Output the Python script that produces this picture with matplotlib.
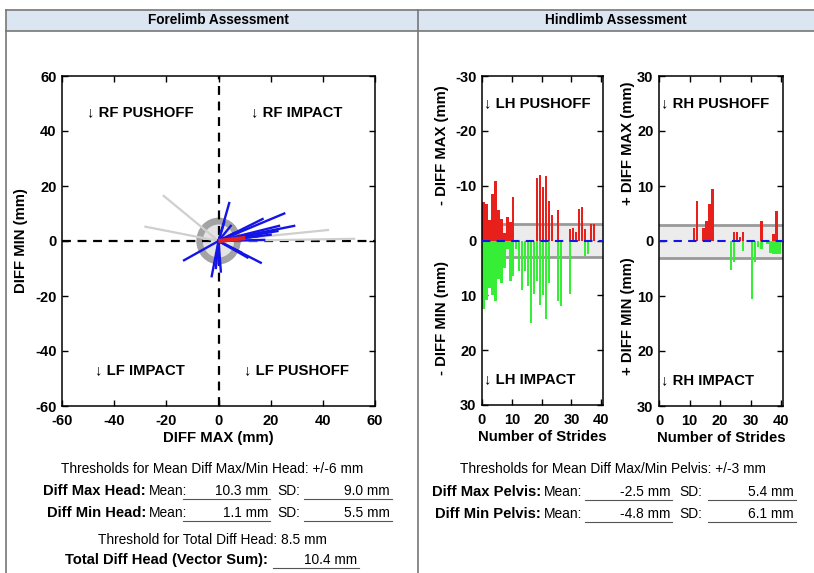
import numpy as np
import matplotlib
matplotlib.use("Agg")
import matplotlib.pyplot as plt
from matplotlib.patches import Circle, Rectangle
from matplotlib.lines import Line2D
from matplotlib.ticker import FuncFormatter

plt.rcParams["font.family"] = ["Liberation Sans", "DejaVu Sans"]
plt.rcParams["axes.unicode_minus"] = False

W, H = 814, 573

# --- Forelimb: per-stride (diff max, diff min) head vectors in mm ---
head_max = [4.1, 25.2, 29.0, 16.9, 23.2, 16.2, -13.2, -2.6, 0.9, 4.7,
            20.0, 17.5, 8.6, 11.1, 2.2, 22.6, 15.0, 6.0, 0.3, -1.0]
head_min = [13.8, 10.0, 5.5, 8.0, 5.5, -7.9, -7.0, -12.8, -11.1, 5.5,
            2.3, 0.4, -4.1, -6.0, 6.8, 3.6, 1.7, 2.9, -8.6, -9.8]
# excluded strides (drawn light gray)
excl_max = [-21.0, -28.0, 42.0, 52.0]
excl_min = [16.4, 5.2, 4.0, 0.8]

head_mean = [10.3, 1.1]
head_sd = [9.0, 5.5]
head_thresh = 6
total_thresh = 8.5
total_head = 10.4

# --- Hindlimb: per-stride pelvis diff max / diff min magnitudes (mm) ---
strides = np.arange(1, 41)
lh_max = [7.0, 6.7, 3.7, 8.4, 10.8, 5.5, 3.9, 1.4, 4.2, 3.3,
          7.9, 0, 0, 0, 0, 0, 0, 0, 11.4, 12.0,
          9.8, 11.7, 7.2, 4.7, 0, 5.6, 0, 0, 0, 2.1,
          2.3, 1.6, 5.8, 6.2, 2.1, 0, 3.0, 3.0, 0, 0]
lh_min = [12.5, 10.8, 8.6, 10.0, 11.0, 7.0, 7.8, 5.0, 1.5, 7.4,
          6.4, 1.5, 5.5, 9.0, 5.5, 8.3, 15.0, 9.8, 7.3, 11.7,
          10.0, 14.4, 7.7, 0, 0, 11.0, 12.0, 0, 0, 9.8,
          0, 0, 0, 0, 2.8, 2.5, 0, 0, 0, 0]
rh_max = [0, 0, 0, 0, 0, 0, 0, 0, 0, 0,
          0, 2.3, 7.2, 0, 2.3, 3.7, 6.8, 9.4, 0, 0,
          0, 0, 0, 0, 1.6, 1.6, 0.8, 1.6, 0, 0,
          0, 0, 0, 3.6, 0, 0, 0, 1.3, 5.5, 0]
rh_min = [0, 0, 0, 0, 0, 0, 0, 0, 0, 0,
          0, 0, 0, 0, 0, 0, 0, 0, 0, 0,
          0, 0, 0, 5.3, 3.9, 0, 0, 1.8, 0, 0,
          10.6, 3.8, 1.0, 1.5, 0, 0.5, 2.1, 2.4, 2.4, 2.4]

pelvis_mean = [-2.5, -4.8]
pelvis_sd = [5.4, 6.1]
pelvis_thresh = 3

RED = "#e8201c"
GREEN = "#36ee36"
BLUE = "#1414e6"
LF = 10.7   # label font size in the plots


def box(l, t, r, b):
    return [l / W, 1 - b / H, (r - l) / W, (b - t) / H]


def fx(px):
    return px / W


def fy(py):
    return 1 - py / H


fig = plt.figure(figsize=(W / 100, H / 100), dpi=100)
fig.patch.set_facecolor("white")

# header band and frame
fig.add_artist(Rectangle((fx(6), fy(31)), fx(814) - fx(6), fy(10) - fy(31),
                         transform=fig.transFigure, facecolor="#dce6f2",
                         edgecolor="none"))
for y in (9.5, 31):
    fig.add_artist(Line2D([fx(6), fx(814)], [fy(y), fy(y)], color="#777777", lw=1.2))
for x in (6, 418):
    fig.add_artist(Line2D([fx(x), fx(x)], [fy(9.5), fy(573)], color="#777777", lw=1.2))
fig.text(fx(218), fy(20.5), "Forelimb Assessment", ha="center", va="center",
         fontsize=9.8, fontweight="bold")
fig.text(fx(616), fy(20.5), "Hindlimb Assessment", ha="center", va="center",
         fontsize=9.8, fontweight="bold")


def style(ax):
    ax.tick_params(direction="in", top=True, right=True, length=4, width=1,
                   labelsize=10.5)
    ax.tick_params(axis="x", pad=6)
    ax.tick_params(axis="y", pad=4)
    for lab in ax.get_xticklabels() + ax.get_yticklabels():
        lab.set_fontweight("bold")
    for s in ax.spines.values():
        s.set_linewidth(1.1)


# ---- Forelimb plot ----
ax = fig.add_axes(box(62, 76, 375, 406))
ax.set_xlim(-60, 60)
ax.set_ylim(-60, 60)
ax.set_xticks(range(-60, 61, 20))
ax.set_yticks(range(-60, 61, 20))
ax.add_patch(Circle((0, 0), total_thresh, facecolor="#a3a3a3", edgecolor="none", zorder=1))
ax.add_patch(Circle((0, 0), head_thresh, facecolor="#e4e4e4", edgecolor="none", zorder=1))
ax.axhline(0, color="black", ls=(0, (4, 3)), lw=1.6, zorder=2)
ax.axvline(0, color="black", ls=(0, (4, 3)), lw=1.6, zorder=2)
for mx, mn in zip(excl_max, excl_min):
    ax.plot([0, mx], [0, mn], color="#cfcfcf", lw=1.6, zorder=3)
for mx, mn in zip(head_max, head_min):
    ax.plot([0, mx], [0, mn], color=BLUE, lw=1.7, zorder=4)
ax.plot([0, head_mean[0]], [0, head_mean[1]], color=RED, lw=3, zorder=5,
        solid_capstyle="butt")
qfont = dict(fontsize=LF, fontweight="bold", ha="center", va="center")
ax.text(-30, 47, "↓ RF PUSHOFF", **qfont)
ax.text(30, 47, "↓ RF IMPACT", **qfont)
ax.text(-30, -47, "↓ LF IMPACT", **qfont)
ax.text(30, -47, "↓ LF PUSHOFF", **qfont)
ax.set_xlabel("DIFF MAX (mm)", fontsize=LF, fontweight="bold", labelpad=2)
ax.set_ylabel("DIFF MIN (mm)", fontsize=LF, fontweight="bold", labelpad=5)
style(ax)


# ---- Hindlimb plots ----
def hind(ax, up, down, side):
    ax.set_xlim(0, 40.6)
    ax.axhspan(-pelvis_thresh, pelvis_thresh, color="#ececec", zorder=0)
    for t in (-pelvis_thresh, pelvis_thresh):
        ax.axhline(t, color="#9a9a9a", lw=2, zorder=1)
    ax.bar(strides - 0.5, up, width=0.8, color=RED, zorder=2)
    ax.bar(strides - 0.5, down, width=0.8, color=GREEN, zorder=2)
    ax.axhline(0, color=BLUE, ls=(0, (4, 3)), lw=1.5, zorder=3)
    ax.set_xticks(range(0, 41, 10))
    ax.set_yticks(range(-30, 31, 10))
    ax.set_xlabel("Number of Strides", fontsize=LF, fontweight="bold", labelpad=2)
    tf = dict(fontsize=LF, fontweight="bold", ha="left", va="center",
              transform=ax.transAxes)
    ax.text(0.015, 0.918, f"↓ {side} PUSHOFF", **tf)
    ax.text(0.015, 0.079, f"↓ {side} IMPACT", **tf)
    style(ax)


ax_lh = fig.add_axes(box(482, 76, 603, 405))
ax_lh.set_ylim(30, -30)
hind(ax_lh, -np.array(lh_max), np.array(lh_min), "LH")

ax_rh = fig.add_axes(box(659, 76, 783, 406))
ax_rh.set_ylim(-30, 30)
hind(ax_rh, np.array(rh_max), -np.array(rh_min), "RH")
ax_rh.yaxis.set_major_formatter(FuncFormatter(lambda v, p: f"{abs(v):.0f}"))
for lab in ax_rh.get_yticklabels():
    lab.set_fontweight("bold")

ylab = dict(fontsize=LF, fontweight="bold", rotation=90, ha="center", va="center")
fig.text(fx(442), fy(145), "- DIFF MAX (mm)", **ylab)
fig.text(fx(442), fy(318), "- DIFF MIN (mm)", **ylab)
fig.text(fx(628), fy(143), "+ DIFF MAX (mm)", **ylab)
fig.text(fx(628), fy(316), "+ DIFF MIN (mm)", **ylab)

# ---- summary text ----
FS = 9.9
FB = 10.6


def field(x0, x1, y, val):
    fig.add_artist(Line2D([fx(x0), fx(x1)], [fy(y + 7.5), fy(y + 7.5)], color="#555555", lw=0.8))
    fig.text(fx(x1 - 2), fy(y), val, ha="right", va="center", fontsize=FS)


def stat_row(y, label, lab_end, mean, sd, m0, m1, s0, s1):
    fig.text(fx(lab_end), fy(y), label, ha="right", va="center", fontsize=FB,
             fontweight="bold")
    fig.text(fx(lab_end + 3), fy(y), "Mean:", ha="left", va="center", fontsize=FS)
    field(m0, m1, y, f"{mean:.1f} mm")
    fig.text(fx(m1 + 7), fy(y), "SD:", ha="left", va="center", fontsize=FS)
    field(s0, s1, y, f"{sd:.1f} mm")


fig.text(fx(212), fy(469), f"Thresholds for Mean Diff Max/Min Head: +/-{head_thresh} mm",
         ha="center", va="center", fontsize=FS)
stat_row(491, "Diff Max Head:", 146, head_mean[0], head_sd[0], 183, 270, 304, 392)
stat_row(513, "Diff Min Head:", 146, head_mean[1], head_sd[1], 183, 270, 304, 392)
fig.text(fx(212), fy(540), f"Threshold for Total Diff Head: {total_thresh} mm",
         ha="center", va="center", fontsize=FS)
fig.text(fx(268), fy(560), "Total Diff Head (Vector Sum):", ha="right", va="center",
         fontsize=FB, fontweight="bold")
field(273, 359, 560, f"{total_head:.1f} mm")

fig.text(fx(613), fy(469), f"Thresholds for Mean Diff Max/Min Pelvis: +/-{pelvis_thresh} mm",
         ha="center", va="center", fontsize=FS)
stat_row(492, "Diff Max Pelvis:", 541, pelvis_mean[0], pelvis_sd[0], 585, 672, 708, 796)
stat_row(514, "Diff Min Pelvis:", 541, pelvis_mean[1], pelvis_sd[1], 585, 672, 708, 796)

fig.savefig("out.png", dpi=100)
